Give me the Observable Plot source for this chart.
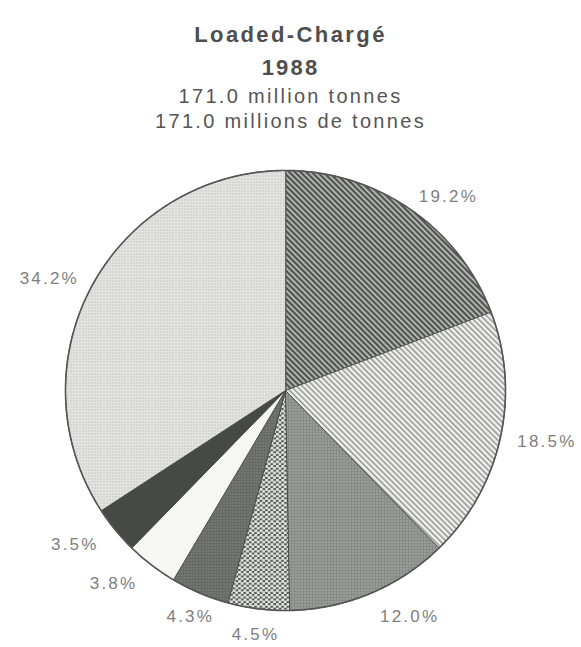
<!DOCTYPE html>
<html><head><meta charset="utf-8">
<script src="https://cdn.jsdelivr.net/npm/d3@7"></script>
<script src="https://cdn.jsdelivr.net/npm/@observablehq/plot@0.6"></script>
<style>
body{margin:0;background:#fff;}
#wrap{position:relative;width:581px;height:647px;overflow:hidden;font-family:"Liberation Sans",Arial,sans-serif;}
.t{position:absolute;left:0;width:581px;text-align:center;white-space:nowrap;line-height:24px;}
#chart svg text{letter-spacing:2.2px;}
</style></head><body>
<svg width="0" height="0" style="position:absolute">
<defs>
<pattern id="pat0" width="4" height="4" patternUnits="userSpaceOnUse" patternTransform="rotate(-45)">
 <rect width="4" height="4" fill="#50534e"/><rect x="0" y="0" width="1.6" height="4" fill="#c6c8c4"/>
</pattern>
<pattern id="pat1" width="4" height="4" patternUnits="userSpaceOnUse" patternTransform="rotate(-45)">
 <rect width="4" height="4" fill="#f0f0ee"/><rect x="0" y="0" width="1.4" height="4" fill="#8c8e8a"/>
</pattern>
<pattern id="pat2" width="3" height="3" patternUnits="userSpaceOnUse">
 <rect width="3" height="3" fill="#80827e"/><circle cx="1.5" cy="1.5" r="0.9" fill="#b8bab6"/>
</pattern>
<pattern id="pat3" width="5.4" height="4.6" patternUnits="userSpaceOnUse">
 <rect width="5.4" height="4.6" fill="#4f524d"/><circle cx="1.35" cy="1.15" r="1.7" fill="#e2e4e0"/><circle cx="4.05" cy="3.45" r="1.7" fill="#e2e4e0"/>
</pattern>
<pattern id="pat4" width="3" height="3" patternUnits="userSpaceOnUse">
 <rect width="3" height="3" fill="#646762"/><circle cx="1.5" cy="1.5" r="0.75" fill="#93958f"/>
</pattern>
<pattern id="pat5" width="4" height="4" patternUnits="userSpaceOnUse">
 <rect width="4" height="4" fill="#f6f6f4"/>
</pattern>
<pattern id="pat6" width="4" height="4" patternUnits="userSpaceOnUse">
 <rect width="4" height="4" fill="#464944"/>
</pattern>
<pattern id="pat7" width="3" height="3" patternUnits="userSpaceOnUse">
 <rect width="3" height="3" fill="#e3e4e0"/><circle cx="1.5" cy="1.5" r="0.6" fill="#a9aba7"/>
</pattern>
</defs>
</svg>
<div id="wrap">
 <div id="chart"></div>
 <div class="t" id="t1" style="top:23px;font-size:22px;font-weight:bold;letter-spacing:2.4px;color:#4e4e4e"></div>
 <div class="t" id="t2" style="top:56px;font-size:22px;font-weight:bold;letter-spacing:2.2px;color:#4e4e4e"></div>
 <div class="t" id="t3" style="top:84px;font-size:20px;letter-spacing:2.3px;color:#555"></div>
 <div class="t" id="t4" style="top:109px;font-size:20px;letter-spacing:2.3px;color:#555"></div>
</div>
<script>
// ---- data ----
const title = "Loaded-Chargé";
const year = "1988";
const subtitleEn = "171.0 million tonnes";
const subtitleFr = "171.0 millions de tonnes";
const shares = [19.2, 18.5, 12.0, 4.5, 4.3, 3.8, 3.5, 34.2];
const labels = ["19.2%", "18.5%", "12.0%", "4.5%", "4.3%", "3.8%", "3.5%", "34.2%"];
const fills = ["url(#pat0)", "url(#pat1)", "url(#pat2)", "url(#pat3)", "url(#pat4)", "url(#pat5)", "url(#pat6)", "url(#pat7)"];

document.getElementById("t1").textContent = title;
document.getElementById("t2").textContent = year;
document.getElementById("t3").textContent = subtitleEn;
document.getElementById("t4").textContent = subtitleFr;

const R = 220; // pixel radius
const arcs = d3.pie().sort(null).value(d => d)(shares);

const polys = arcs.map((a, i) => {
  const n = Math.max(4, Math.ceil((a.endAngle - a.startAngle) / 0.01));
  const pts = [{x: 0, y: 0}];
  for (let j = 0; j <= n; j++) {
    const t = a.startAngle + (a.endAngle - a.startAngle) * j / n;
    pts.push({x: Math.sin(t), y: Math.cos(t)});
  }
  return pts;
});
const outline = d3.range(0, 361).map(d => ({x: Math.sin(d * Math.PI / 180), y: Math.cos(d * Math.PI / 180)}));

const labelData = arcs.map((a, i) => {
  const m = (a.startAngle + a.endAngle) / 2;
  const s = Math.sin(m), c = Math.cos(m);
  const k = (R + 15 + 11 * Math.max(0, -c)) / R;
  return {label: labels[i], x: k * s, y: k * c, anchor: s > 0.3 ? "start" : (s < -0.5 ? "end" : "middle")};
});

const marks = polys.map((p, i) => Plot.line(p, {x: "x", y: "y", fill: fills[i], stroke: "#4a4a4a", strokeWidth: 1, curve: "linear-closed"}));
marks.push(Plot.line(outline, {x: "x", y: "y", stroke: "#555", strokeWidth: 1.6}));
for (const anc of ["start", "middle", "end"]) {
  marks.push(Plot.text(labelData.filter(d => d.anchor === anc), {x: "x", y: "y", text: "label", textAnchor: anc, fontSize: 17, fill: "#808080"}));
}

const chart = Plot.plot({
  width: 581, height: 647, margin: 0,
  style: {fontFamily: "Liberation Sans, Arial, sans-serif", background: "transparent"},
  x: {domain: [-1, 1], range: [65, 505], axis: null},
  y: {domain: [-1, 1], range: [610, 170], axis: null},
  marks
});
document.getElementById("chart").appendChild(chart);
</script>
</body></html>
